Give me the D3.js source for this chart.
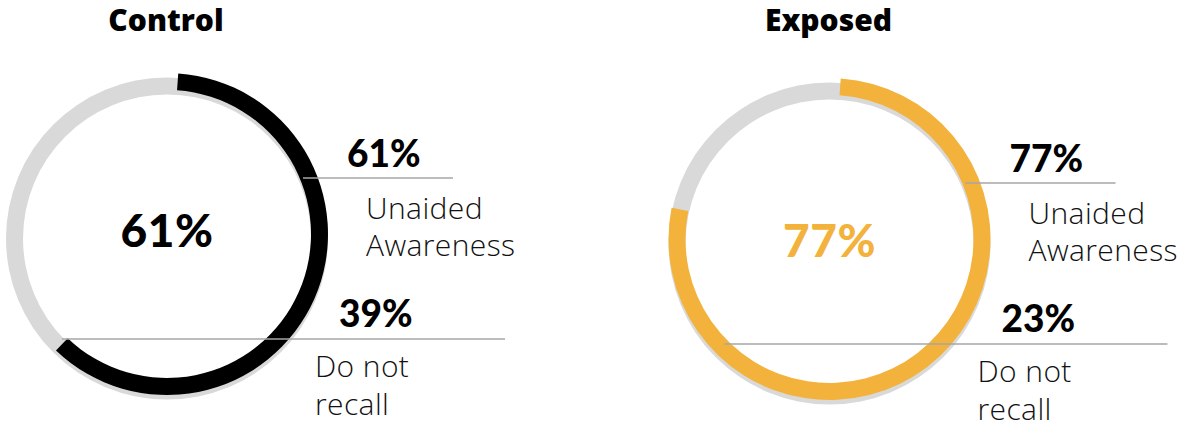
<!DOCTYPE html>
<html>
<head>
<meta charset="utf-8">
<script src="https://cdn.jsdelivr.net/npm/d3@7"></script>
<style>
  html, body { margin: 0; padding: 0; background: #fff; }
  svg { display: block; }
</style>
</head>
<body>
<svg id="chart" width="1187" height="428"></svg>
<script>
// Survey groups and their unaided awareness results (percent)
const groups = ["Control", "Exposed"];
const awareness = [61, 77];
const notRecall = [39, 23];
const ringColors = ["#000000", "#F3B23B"];
const centerColors = ["#000000", "#F3B23B"];
const awareLabel = ["Unaided", "Awareness"];
const notRecallLabel = ["Do not", "recall"];

const W = 1187, H = 428;
const svg = d3.select("#chart");

// Horizontal placement of the two donuts
const xPos = d3.scalePoint().domain(groups).range([167, 829.5]);
const yCenter = { Control: 234, Exposed: 239 };

const outerR = 161, thickness = 17;
const startOffset = 4 * Math.PI / 180;
const angle = d3.scaleLinear().domain([0, 100]).range([0, 2 * Math.PI]);

const arc = d3.arc().innerRadius(outerR - thickness).outerRadius(outerR);

const titleFont = "'Open Sans', 'DejaVu Sans', sans-serif";
const numFont = "Lato, 'Open Sans', sans-serif";

groups.forEach((g, i) => {
  const cx = xPos(g), cy = yCenter[g];
  const grp = svg.append("g");

  // Title
  grp.append("text")
    .attr("x", cx - 1).attr("y", 31)
    .attr("text-anchor", "middle")
    .attr("font-family", titleFont)
    .attr("font-weight", 800)
    .attr("font-size", 30)
    .attr("fill", "#000")
    .text(g);

  // Background track, sitting slightly lower like a soft shadow
  grp.append("path")
    .attr("transform", `translate(${cx},${cy + 4.5})`)
    .attr("d", arc({ startAngle: 0, endAngle: 2 * Math.PI }))
    .attr("fill", "#D9D9D9");

  // Awareness arc
  grp.append("path")
    .attr("transform", `translate(${cx},${cy})`)
    .attr("d", arc({ startAngle: startOffset, endAngle: startOffset + angle(awareness[i]) }))
    .attr("fill", ringColors[i]);

  // Big centre value
  grp.append("text")
    .attr("x", cx).attr("y", cy + (i === 0 ? 13 : 18))
    .attr("text-anchor", "middle")
    .attr("font-family", numFont)
    .attr("font-weight", 900)
    .attr("font-size", 46)
    .attr("letter-spacing", 0.5)
    .attr("fill", centerColors[i])
    .text(awareness[i] + "%");

  // Leader lines
  const lines = [
    { y: cy - 56, x1: cx + 136, x2: cx + 286 },
    { y: cy + 105, x1: cx - 105, x2: cx + 338 }
  ];
  grp.selectAll("line.leader").data(lines).enter().append("line")
    .attr("class", "leader")
    .attr("x1", d => d.x1).attr("x2", d => d.x2)
    .attr("y1", d => d.y).attr("y2", d => d.y)
    .attr("stroke", "#A6A6A6")
    .attr("stroke-width", 1.6);

  // Upper label: awareness value and description
  grp.append("text")
    .attr("x", cx + 180).attr("y", cy - 67)
    .attr("font-family", numFont).attr("font-weight", 900)
    .attr("font-size", 37).attr("fill", "#000")
    .text(awareness[i] + "%");
  awareLabel.forEach((t, k) => {
    grp.append("text")
      .attr("x", cx + 199).attr("y", cy - 15 + k * 37)
      .attr("font-family", titleFont).attr("font-weight", 300)
      .attr("font-size", 30).attr("letter-spacing", 0.4)
      .attr("fill", "#111")
      .text(t);
  });

  // Lower label: not-recall value and description
  grp.append("text")
    .attr("x", cx + 172).attr("y", cy + 93)
    .attr("font-family", numFont).attr("font-weight", 900)
    .attr("font-size", 37).attr("fill", "#000")
    .text(notRecall[i] + "%");
  notRecallLabel.forEach((t, k) => {
    grp.append("text")
      .attr("x", cx + 148).attr("y", cy + 143 + k * 38)
      .attr("font-family", titleFont).attr("font-weight", 300)
      .attr("font-size", 30).attr("letter-spacing", 0.4)
      .attr("fill", "#111")
      .text(t);
  });
});
</script>
</body>
</html>
